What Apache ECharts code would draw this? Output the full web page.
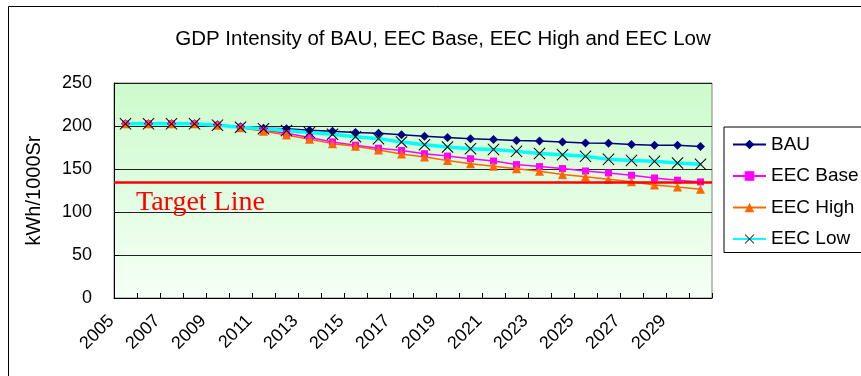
<!DOCTYPE html>
<html>
<head>
<meta charset="utf-8">
<script src="https://cdn.jsdelivr.net/npm/echarts@6/dist/echarts.min.js"></script>
<style>html,body{margin:0;padding:0;background:#fff}#c{width:861px;height:376px}</style>
</head>
<body>
<div id="c"></div>
<script>
var years = ['2005','2006','2007','2008','2009','2010','2011','2012','2013','2014','2015','2016','2017','2018','2019','2020','2021','2022','2023','2024','2025','2026','2027','2028','2029','2030'];
var bau     = [202.5,202.5,202.5,202.5,201.5,199,197.5,196.7,195,194,192.5,191.5,189.8,188,186.5,185.2,184.4,183,182.7,181.3,180.2,180,178.6,177.5,177.5,176.3];
var eecBase = [202.5,202.5,202.5,202.5,201,198.6,195,191.5,186.5,181.5,177.7,174.2,171.6,167.8,165,162,159.3,155.1,152.8,150.5,147.7,145.4,142.7,139.6,137,135];
var eecHigh = [202.5,202.5,202.5,202.5,201,198,194,189.5,184.5,179.5,176.5,172,167.5,164,160,156,153.3,150.3,147.5,143.7,141,138,135.3,131.5,129,126.5];
var eecLow  = [202.5,202.5,202.5,202.5,201,198.6,196.7,194.8,192.3,190.4,187.6,185.3,181.3,178.2,175.5,173.6,172.8,170.5,168,166.5,164.7,161.2,160,158.9,157,155.5];
var targetValue = 135;
var yTicks = {min:0, max:250, interval:50};

var xPath = 'path://M0,0.6L0.6,0L5,4.4L9.4,0L10,0.6L5.6,5L10,9.4L9.4,10L5,5.6L0.6,10L0,9.4L4.4,5Z';
var chart = echarts.init(document.getElementById('c'));
var font = 'Liberation Sans, Arial, sans-serif';
chart.setOption({
  animation:false,
  backgroundColor:'#fff',
  graphic:[{type:'rect', z:-10, silent:true, shape:{x:8.5,y:6.5,width:1000,height:1000}, style:{fill:'#fff', stroke:'#000', lineWidth:1}}],
  title:{text:'GDP Intensity of BAU, EEC Base, EEC High and EEC Low', left:438, top:24, textAlign:'center',
    textStyle:{fontFamily:font, fontSize:20.5, fontWeight:'normal', color:'#000'}},
  legend:{orient:'vertical', left:724, top:127, padding:[8,30,4,8], borderColor:'#000', borderWidth:1,
    itemWidth:33, itemHeight:12, itemGap:12.5, backgroundColor:'#fff',
    textStyle:{fontFamily:font, fontSize:19, color:'#000', lineHeight:19},
    data:['BAU','EEC Base','EEC High','EEC Low']},
  grid:{left:114, right:149, top:83, bottom:78, show:true, borderColor:'#808080', borderWidth:1,
    backgroundColor:{type:'linear', x:0, y:0, x2:0, y2:1, colorStops:[{offset:0,color:'#ccfbcc'},{offset:1,color:'#f6fff6'}]}},
  xAxis:{type:'category', data:years, boundaryGap:true,
    axisLine:{lineStyle:{color:'#000', width:1}},
    axisTick:{show:true, inside:true, length:5, interval:0, lineStyle:{color:'#000'}},
    axisLabel:{interval:1, rotate:45, margin:6, padding:[0,20,0,0], fontFamily:font, fontSize:18, color:'#000'},
    splitLine:{show:false}},
  yAxis:{type:'value', min:yTicks.min, max:yTicks.max, interval:yTicks.interval,
    name:'kWh/1000Sr', nameLocation:'middle', nameGap:70, nameRotate:90,
    nameTextStyle:{fontFamily:font, fontSize:20, color:'#000'},
    axisLine:{show:true, lineStyle:{color:'#000'}},
    axisTick:{show:true, inside:true, length:5, lineStyle:{color:'#000'}},
    axisLabel:{margin:22, fontFamily:font, fontSize:18, color:'#000'},
    splitLine:{show:true, lineStyle:{color:'#222', width:1}}},
  series:[
    {name:'BAU', type:'line', data:bau, symbol:'diamond', symbolSize:9,
      itemStyle:{color:'#000080'}, lineStyle:{color:'#000080', width:1.5},
      markLine:{silent:true, symbol:'none', data:[{yAxis:targetValue}],
        lineStyle:{color:'#ff0000', width:2.5, type:'solid'},
        label:{show:true, formatter:'Target Line', position:'insideStartBottom', distance:[22,7],
          color:'#ff0000', fontFamily:'Liberation Serif, Times New Roman, serif', fontSize:28}}},
    {name:'EEC Base', type:'line', data:eecBase, symbol:'rect', symbolSize:7,
      itemStyle:{color:'#ff00ff'}, lineStyle:{color:'#ff00ff', width:1.5}},
    {name:'EEC High', type:'line', data:eecHigh, symbol:'triangle', symbolSize:9,
      itemStyle:{color:'#ff6600'}, lineStyle:{color:'#ff6600', width:1.5}},
    {name:'EEC Low', type:'line', data:eecLow, symbol:xPath, symbolSize:12,
      itemStyle:{color:'#000'}, lineStyle:{color:'#00ffff', width:3.5}}
  ]
});
</script>
</body>
</html>
